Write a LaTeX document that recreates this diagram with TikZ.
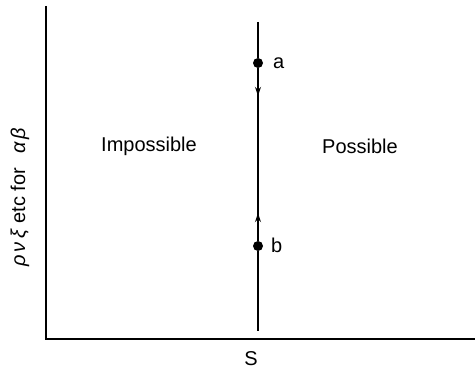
\documentclass[tikz,border=0pt]{standalone}
\usepackage{fontspec}
\setmainfont{Liberation Sans}
\usetikzlibrary{decorations.markings,arrows.meta}
\begin{document}
\begin{tikzpicture}[x=1pt,y=-1pt,
  axis/.style={line width=1.3pt},
  vline/.style={line width=1.1pt},
  lab/.style={font=\fontsize{20}{24}\selectfont, inner sep=0pt},
  dot/.style={circle,fill=black,inner sep=0pt,minimum size=10pt},
  flow/.style={postaction={decorate}, decoration={markings,
    mark=at position 0.16 with {\arrow{Stealth[length=9pt,width=6pt]}},
    mark=at position 0.84 with {\arrowreversed{Stealth[length=9pt,width=6pt]}}}}]
\useasboundingbox (0,0) rectangle (475,369);
\coordinate (o) at (46,339);
\coordinate (ytop) at (46,6);
\coordinate (xend) at (475,339);
\draw[axis] (ytop) -- (o) -- (xend);
\coordinate (vtop) at (258,22);
\coordinate (vbot) at (258,331);
\node[dot] (a) at (258,63) {};
\node[dot] (b) at (258,246) {};
\draw[vline] (vtop) -- (a);
\draw[vline, flow] (a) -- (b);
\draw[vline] (b) -- (vbot);
\node[lab, anchor=west] (la) at (273,63) {a};
\node[lab, anchor=west] (lb) at (271,245) {b};
\node[lab] (imp) at (149,146) {Impossible};
\node[lab] (pos) at (360,146) {Possible};
\node[lab] (s) at (251,359) {S};
\node[lab, rotate=90, anchor=base west] (ylab) at (25,267) {\textit{ρ\,ν\,ξ} etc for\hspace{14pt}\textit{α\,β}};
\end{tikzpicture}
\end{document}
